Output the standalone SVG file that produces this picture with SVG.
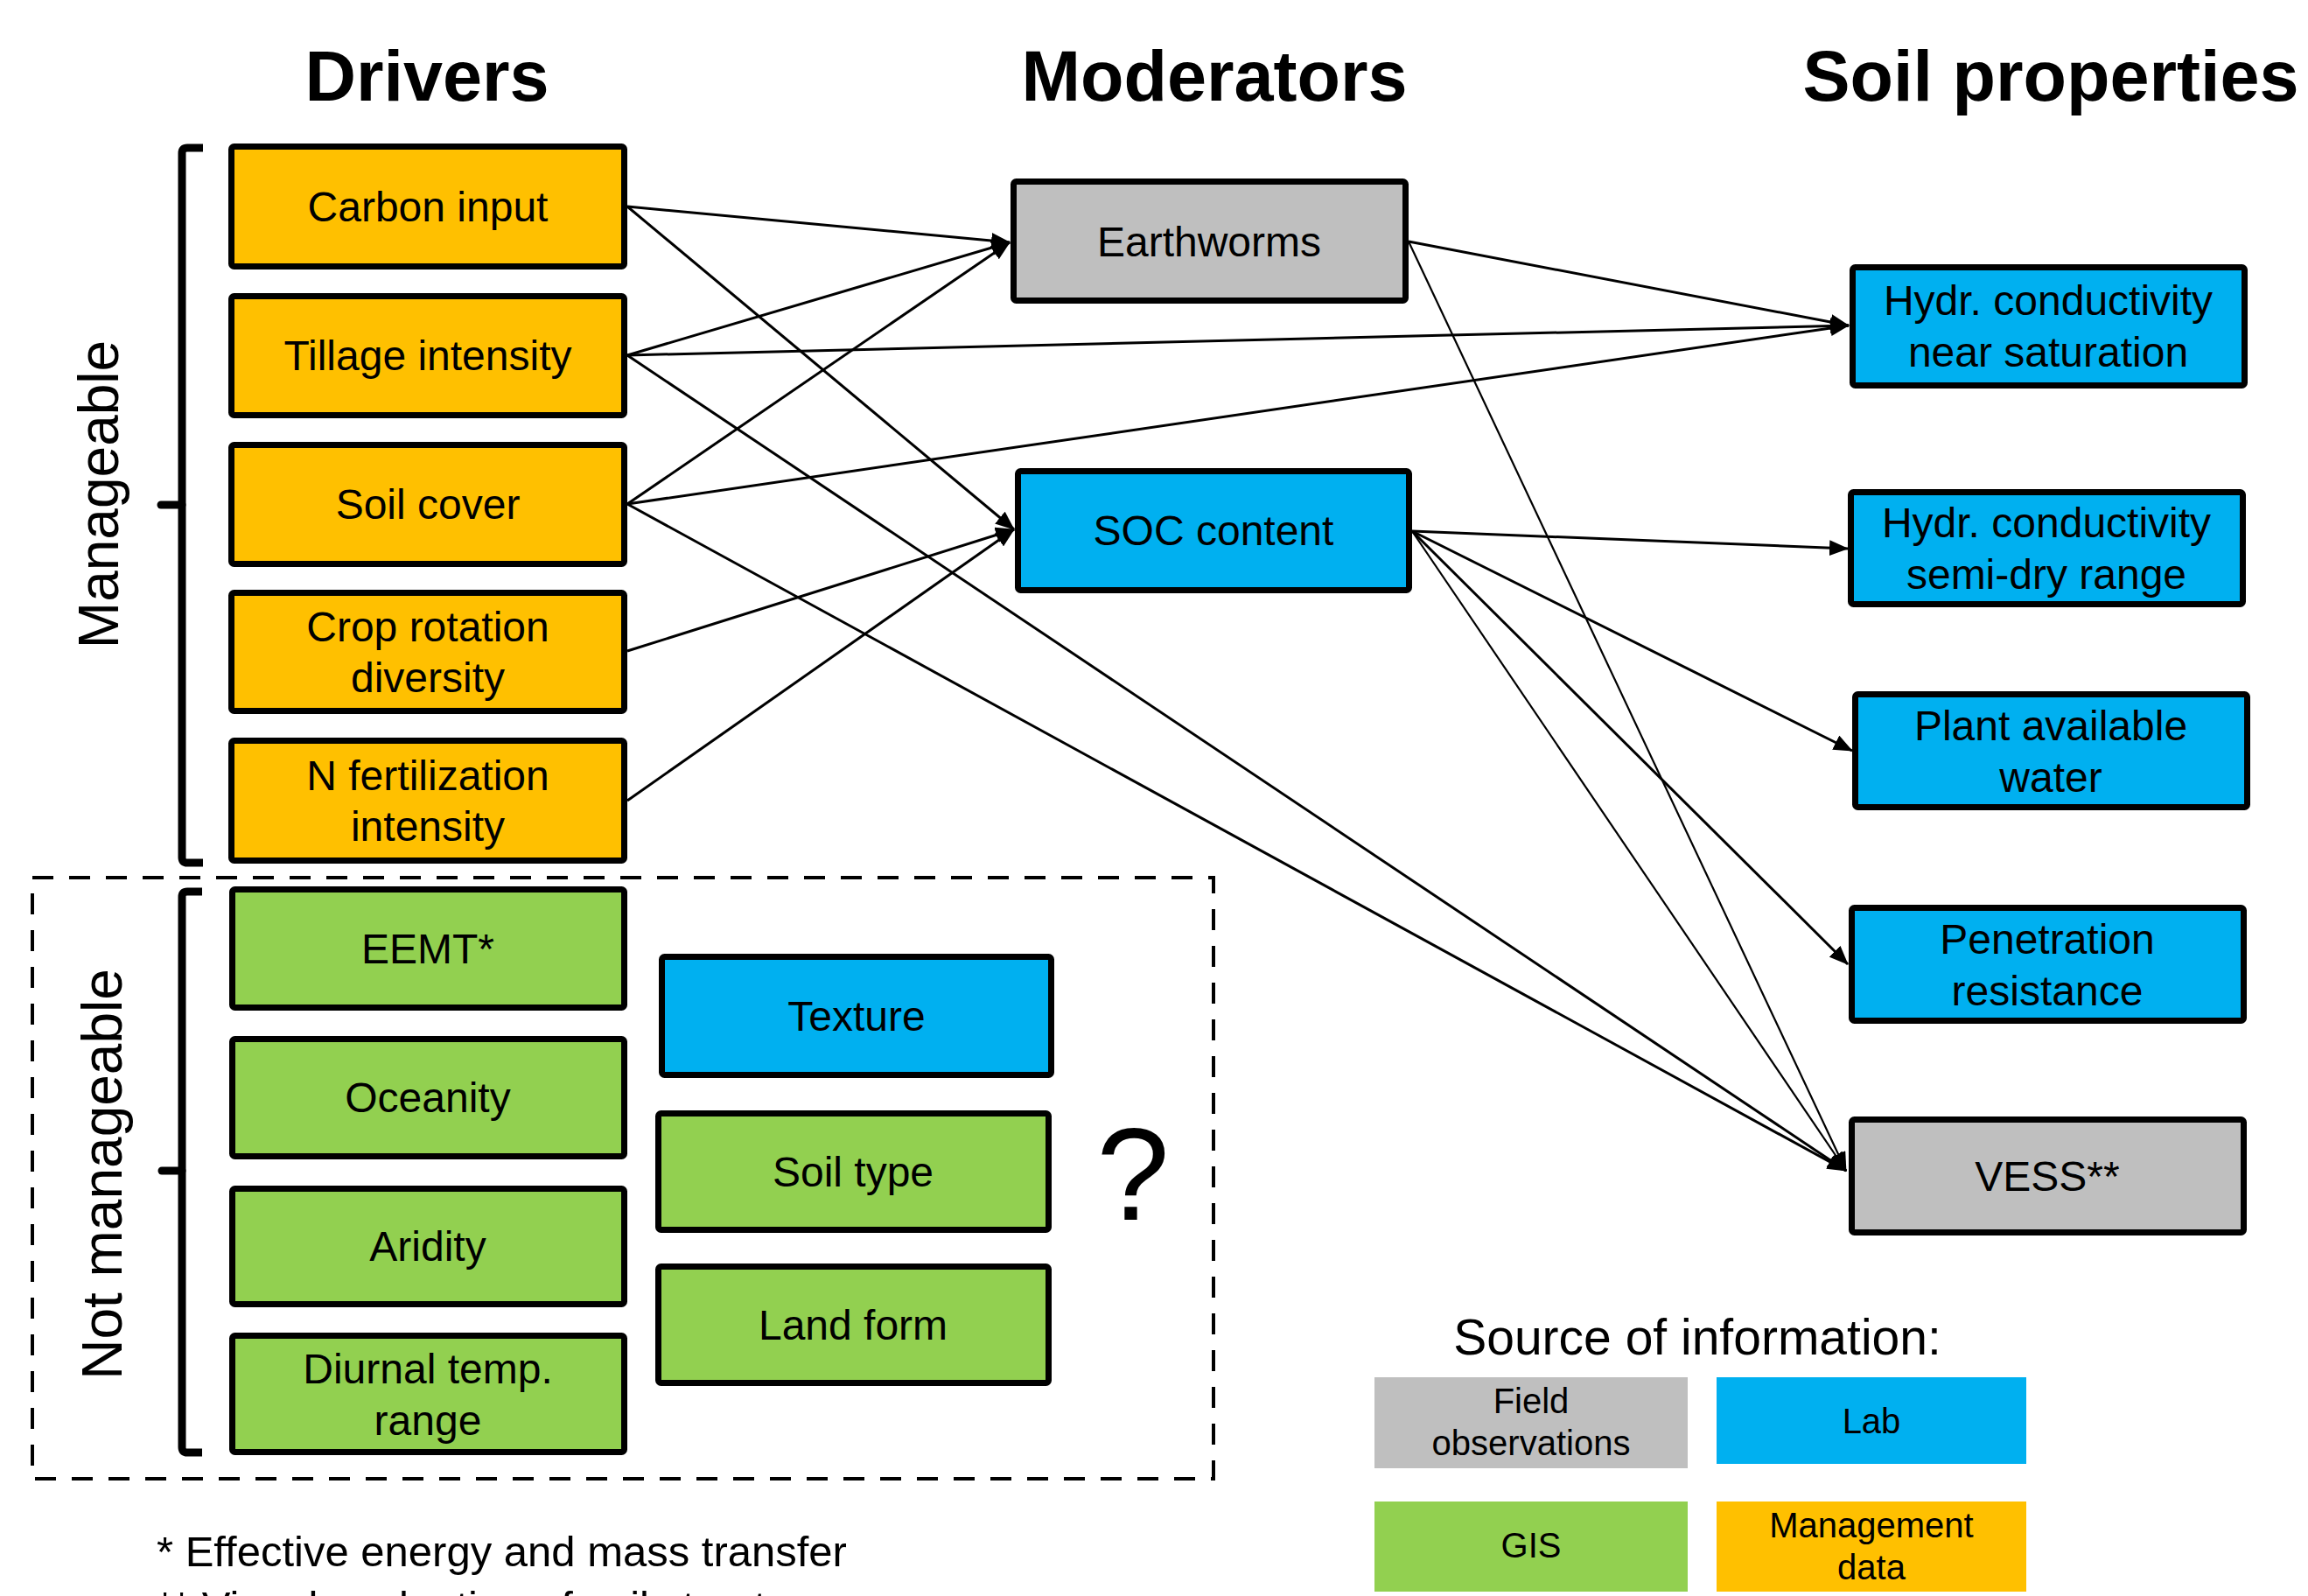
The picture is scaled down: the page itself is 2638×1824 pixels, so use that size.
<svg xmlns="http://www.w3.org/2000/svg" width="2638" height="1824" viewBox="0 0 2638 1824">
<style>
  text { font-family: "Liberation Sans", Arial, sans-serif; fill: #000; }
  .title { font-size: 81px; font-weight: bold; text-anchor: middle; }
  .lbl { font-size: 48px; text-anchor: middle; }
  .side { font-size: 64px; text-anchor: middle; }
  .leg { font-size: 40px; text-anchor: middle; }
  .box { stroke: #000; stroke-width: 7; stroke-linejoin: round; }
  .mg { fill: #FFC000; }
  .gis { fill: #92D050; }
  .lab { fill: #00B0F0; }
  .fld { fill: #BFBFBF; }
  .edge { stroke: #000; stroke-width: 3; fill: none; marker-end: url(#arr); }
  .thin { stroke-width: 2.2; }
  .brace { stroke: #000; stroke-width: 9; fill: none; }
</style>
<defs>
  <marker id="arr" markerUnits="userSpaceOnUse" markerWidth="22" markerHeight="18" refX="21" refY="9" orient="auto">
    <path d="M0,0 L22,9 L0,18 z" fill="#000"/>
  </marker>
</defs>
<rect x="0" y="0" width="2638" height="1824" fill="#fff"/>

<text class="title" x="488" y="115">Drivers</text>
<text class="title" x="1388" y="115">Moderators</text>
<text class="title" x="2344" y="115">Soil properties</text>

<g id="manageable-label">
  <text class="side" transform="translate(135,565) rotate(-90)">Manageable</text>
  <path class="brace" d="M232,169 H214 Q208,169 208,175 V980 Q208,986 214,986 H232"/>
  <path class="brace" d="M208,577 H184" stroke-linecap="round"/>
</g>
<g id="not-manageable-label">
  <text class="side" transform="translate(139,1342) rotate(-90)">Not manageable</text>
  <path class="brace" d="M231,1019 H214 Q208,1019 208,1025 V1654 Q208,1660 214,1660 H231"/>
  <path class="brace" d="M208,1338 H185" stroke-linecap="round"/>
</g>
<rect id="not-manageable-frame" x="37" y="1003" width="1350" height="687" fill="none" stroke="#000" stroke-width="4" stroke-dasharray="24 18"/>

<g id="carbon-input"><rect class="box mg" x="264.5" y="167.5" width="449" height="137" rx="3"/><text class="lbl" x="489" y="253">Carbon input</text></g>
<g id="tillage-intensity"><rect class="box mg" x="264.5" y="338.5" width="449" height="136" rx="3"/><text class="lbl" x="489" y="423">Tillage intensity</text></g>
<g id="soil-cover"><rect class="box mg" x="264.5" y="508.5" width="449" height="136" rx="3"/><text class="lbl" x="489" y="593">Soil cover</text></g>
<g id="crop-rotation"><rect class="box mg" x="264.5" y="677.5" width="449" height="135" rx="3"/><text class="lbl" x="489" y="733">Crop rotation</text><text class="lbl" x="489" y="791">diversity</text></g>
<g id="n-fertilization"><rect class="box mg" x="264.5" y="846.5" width="449" height="137" rx="3"/><text class="lbl" x="489" y="903">N fertilization</text><text class="lbl" x="489" y="961">intensity</text></g>

<g id="eemt"><rect class="box gis" x="265.5" y="1016.5" width="448" height="135" rx="3"/><text class="lbl" x="489" y="1101">EEMT*</text></g>
<g id="oceanity"><rect class="box gis" x="265.5" y="1187.5" width="448" height="134" rx="3"/><text class="lbl" x="489" y="1271">Oceanity</text></g>
<g id="aridity"><rect class="box gis" x="265.5" y="1358.5" width="448" height="132" rx="3"/><text class="lbl" x="489" y="1441">Aridity</text></g>
<g id="diurnal"><rect class="box gis" x="265.5" y="1526.5" width="448" height="133" rx="3"/><text class="lbl" x="489" y="1581">Diurnal temp.</text><text class="lbl" x="489" y="1640">range</text></g>

<g id="texture"><rect class="box lab" x="756.5" y="1093.5" width="445" height="135" rx="3"/><text class="lbl" x="979" y="1178">Texture</text></g>
<g id="soil-type"><rect class="box gis" x="752.5" y="1272.5" width="446" height="133" rx="3"/><text class="lbl" x="975" y="1356">Soil type</text></g>
<g id="land-form"><rect class="box gis" x="752.5" y="1447.5" width="446" height="133" rx="3"/><text class="lbl" x="975" y="1531">Land form</text></g>
<text x="1295" y="1394" font-size="150" text-anchor="middle">?</text>

<g id="earthworms"><rect class="box fld" x="1158.5" y="207.5" width="448" height="136" rx="3"/><text class="lbl" x="1382" y="293">Earthworms</text></g>
<g id="soc-content"><rect class="box lab" x="1163.5" y="538.5" width="447" height="136" rx="3"/><text class="lbl" x="1387" y="623">SOC content</text></g>

<g id="hydr-sat"><rect class="box lab" x="2117.5" y="305.5" width="448" height="135" rx="3"/><text class="lbl" x="2341" y="360">Hydr. conductivity</text><text class="lbl" x="2341" y="419">near saturation</text></g>
<g id="hydr-dry"><rect class="box lab" x="2115.5" y="562.5" width="448" height="128" rx="3"/><text class="lbl" x="2339" y="614">Hydr. conductivity</text><text class="lbl" x="2339" y="673">semi-dry range</text></g>
<g id="paw"><rect class="box lab" x="2120.5" y="793.5" width="448" height="129" rx="3"/><text class="lbl" x="2344" y="846">Plant available</text><text class="lbl" x="2344" y="905">water</text></g>
<g id="penetration"><rect class="box lab" x="2116.5" y="1037.5" width="448" height="129" rx="3"/><text class="lbl" x="2340" y="1090">Penetration</text><text class="lbl" x="2340" y="1149">resistance</text></g>
<g id="vess"><rect class="box fld" x="2116.5" y="1279.5" width="448" height="129" rx="3"/><text class="lbl" x="2340" y="1361">VESS**</text></g>

<g id="connectors">
  <line class="edge" x1="717" y1="236" x2="1154" y2="277"/>
  <line class="edge" x1="717" y1="236" x2="1159" y2="605"/>
  <line class="edge" x1="717" y1="406" x2="1154" y2="277"/>
  <line class="edge" x1="717" y1="406" x2="2113" y2="372"/>
  <line class="edge" x1="717" y1="406" x2="2110" y2="1338"/>
  <line class="edge" x1="717" y1="576" x2="1154" y2="277"/>
  <line class="edge" x1="717" y1="576" x2="2113" y2="372"/>
  <line class="edge" x1="717" y1="576" x2="2110" y2="1338"/>
  <line class="edge" x1="717" y1="744" x2="1159" y2="605"/>
  <line class="edge" x1="717" y1="915" x2="1159" y2="605"/>
  <line class="edge" x1="1610" y1="276" x2="2113" y2="372"/>
  <line class="edge thin" x1="1610" y1="276" x2="2110" y2="1338"/>
  <line class="edge" x1="1614" y1="607" x2="2112" y2="627"/>
  <line class="edge" x1="1614" y1="607" x2="2117" y2="858"/>
  <line class="edge" x1="1614" y1="607" x2="2112" y2="1102"/>
  <line class="edge thin" x1="1614" y1="607" x2="2110" y2="1338"/>
</g>

<g id="legend">
  <text x="1940" y="1548" font-size="57" text-anchor="middle">Source of information:</text>
  <g id="legend-field"><rect class="fld" x="1571" y="1574" width="358" height="104"/><text class="leg" x="1750" y="1615">Field</text><text class="leg" x="1750" y="1663">observations</text></g>
  <g id="legend-lab"><rect class="lab" x="1962" y="1574" width="354" height="99"/><text class="leg" x="2139" y="1638">Lab</text></g>
  <g id="legend-gis"><rect class="gis" x="1571" y="1716" width="358" height="103"/><text class="leg" x="1750" y="1780">GIS</text></g>
  <g id="legend-mgmt"><rect class="mg" x="1962" y="1716" width="354" height="103"/><text class="leg" x="2139" y="1757">Management</text><text class="leg" x="2139" y="1805">data</text></g>
</g>

<text x="179" y="1790" font-size="49">* Effective energy and mass transfer</text>
<text x="179" y="1853" font-size="49">** Visual evaluation of soil structure</text>
</svg>
